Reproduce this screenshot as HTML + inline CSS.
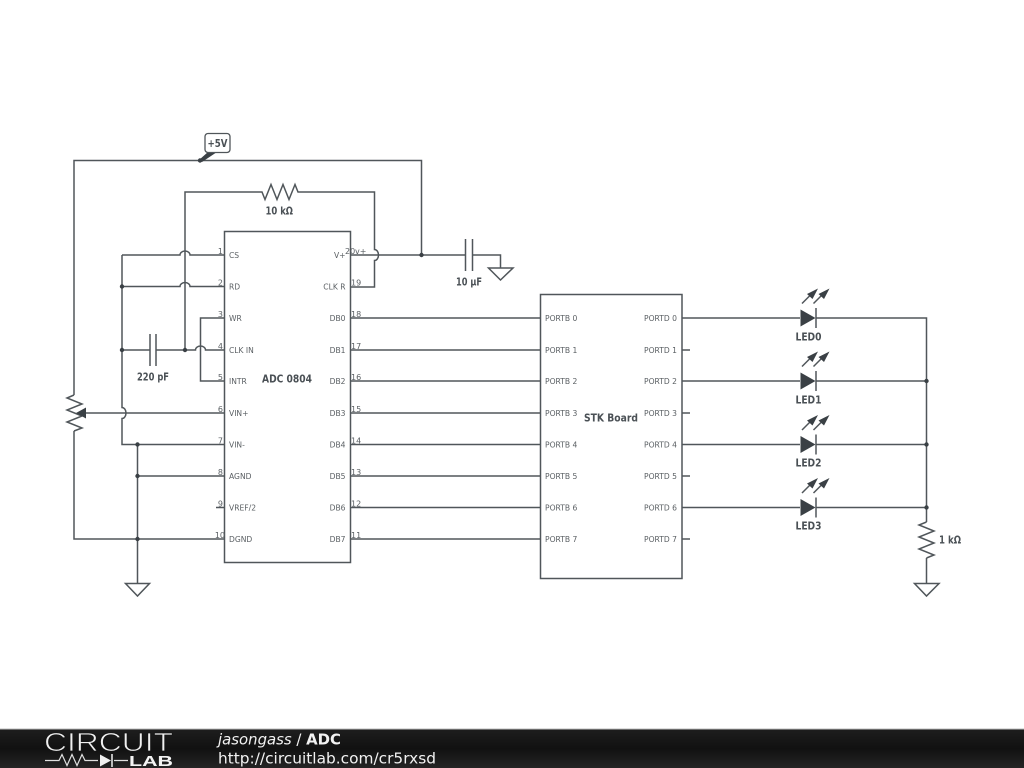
<!DOCTYPE html>
<html><head><meta charset="utf-8"><style>
html,body{margin:0;padding:0;background:#fff;width:1024px;height:768px;overflow:hidden}
svg{display:block}
.w{fill:none;stroke:#50565a;stroke-width:1.5}
.t{font-family:"DejaVu Sans",sans-serif;font-size:7.6px;fill:#5a5f63}
.n{font-family:"DejaVu Sans",sans-serif;font-size:8px;fill:#5a5f63}
.b{font-family:"DejaVu Sans",sans-serif;font-size:10.5px;font-weight:bold;fill:#4a5055}
.d{fill:#3a4045}
</style></head><body>
<svg width="1024" height="768" viewBox="0 0 1024 768" xmlns="http://www.w3.org/2000/svg">
<rect width="1024" height="768" fill="#fff"/>
<rect class="w" x="224.5" y="231.5" width="126" height="331"/>
<rect class="w" x="540.5" y="294.5" width="141.5" height="284"/>
<path class="w" d="M74 395V160.5H421.5V255"/>
<path class="w" d="M74 431V539H224"/>
<path class="w" d="M74 395l-7 3 15 6-15 6 15 6-15 6 15 6-8 3"/>
<path class="w" d="M224 413H86"/>
<path class="d" d="M86 407.500V418.500L76 413Z"/>
<path class="w" d="M122 255V407.500a4 5.500 0 0 1 0 11V444.500H224"/>
<path class="w" d="M122 255H180a5 4 0 0 1 10 0H224"/>
<path class="w" d="M122 286.500H180a5 4 0 0 1 10 0H224"/>
<path class="w" d="M185 350V192H262l3 7.500 6-15 6 15 6-15 6 15 6-15 3 7.500H374.500V249.500a4 5.500 0 0 1 0 11V287H350"/>
<path class="w" d="M122 350H150M156 350H195.500a5 4 0 0 1 10 0H224"/>
<path class="w" d="M150 334V366M156 334V366"/>
<path class="w" d="M224 318H200.500V381H224"/>
<path class="w" d="M137.500 444.500V583"/>
<path class="w" d="M137.500 476H224M216 507.500H224"/>
<path class="w" d="M125.500 583.500H149.500L137.500 596Z"/>
<path class="w" d="M350 255H465.500M472.500 255H500.500V268"/>
<path class="w" d="M465.500 239V271M472.500 239V271"/>
<path class="w" d="M488.500 268H513L500.500 280Z"/>
<path class="w" d="M350 318H540M350 350H540M350 381H540M350 413H540M350 444.500H540M350 476H540M350 507.500H540M350 539H540"/>
<path class="w" d="M682 350H690M682 413H690M682 476H690M682 539H690"/>
<path class="w" d="M682 318H800M682 381H800M682 444.500H800M682 507.500H800"/>
<path class="w" d="M816 318H926.500V522M926.500 558V583M816 381H926.500M816 444.500H926.500M816 507.500H926.500"/>
<path class="w" d="M926.500 522l-7.500 3 15 6-15 6 15 6-15 6 15 6-7.500 3"/>
<path class="w" d="M914.500 583.500H939L926.500 596Z"/>
<g id="l0"><path class="d" d="M800.500 309.500V326.500L815.500 318Z"/><path class="w" d="M816 308V328" stroke-width="1.200"/><path class="w" d="M802 303.500L812 293.500M813.500 303.500L823.500 293.500" stroke-width="1"/><path class="d" d="M818 288.500L807 294L812.500 299ZM829.500 288.500L818.500 294L824 299Z"/></g>
<use href="#l0" y="63"/>
<use href="#l0" y="126.500"/>
<use href="#l0" y="189.500"/>
<g class="d">
<circle cx="200" cy="160.500" r="2.200"/><circle cx="421.500" cy="255" r="2.200"/>
<circle cx="122" cy="286.500" r="2.200"/><circle cx="122" cy="350" r="2.200"/><circle cx="185" cy="350" r="2.200"/>
<circle cx="137.500" cy="444.500" r="2.200"/><circle cx="137.500" cy="476" r="2.200"/><circle cx="137.500" cy="539" r="2.200"/>
<circle cx="926.500" cy="381" r="2.200"/><circle cx="926.500" cy="444.500" r="2.200"/><circle cx="926.500" cy="507.500" r="2.200"/>
<path d="M199 160L208 152H217L202 162Z"/>
</g>
<rect x="205" y="133.500" width="25" height="19" rx="3" fill="#fff" stroke="#50565a" stroke-width="1.300"/>
<text class="b" x="207.500" y="147" textLength="20" lengthAdjust="spacingAndGlyphs">+5V</text>
<text class="b" x="265.500" y="214.500" textLength="27.500" lengthAdjust="spacingAndGlyphs">10 kΩ</text>
<text class="b" x="137" y="380.500" textLength="32" lengthAdjust="spacingAndGlyphs">220 pF</text>
<text class="b" x="456" y="285.500" textLength="26" lengthAdjust="spacingAndGlyphs">10 μF</text>
<text class="b" x="262" y="382.500" textLength="50" lengthAdjust="spacingAndGlyphs">ADC 0804</text>
<text class="b" x="584" y="421.500" textLength="54" lengthAdjust="spacingAndGlyphs">STK Board</text>
<text class="b" x="795.500" y="340.500" textLength="26" lengthAdjust="spacingAndGlyphs">LED0</text>
<text class="b" x="795.500" y="403.500" textLength="26" lengthAdjust="spacingAndGlyphs">LED1</text>
<text class="b" x="795.500" y="466.500" textLength="26" lengthAdjust="spacingAndGlyphs">LED2</text>
<text class="b" x="795.500" y="529.500" textLength="26" lengthAdjust="spacingAndGlyphs">LED3</text>
<text class="b" x="939" y="543.500" textLength="22" lengthAdjust="spacingAndGlyphs">1 kΩ</text>
<g class="t">
<text x="229" y="258">CS</text><text x="229" y="289.500">RD</text><text x="229" y="321">WR</text><text x="229" y="353">CLK IN</text><text x="229" y="384">INTR</text><text x="229" y="416">VIN+</text><text x="229" y="447.500">VIN-</text><text x="229" y="479">AGND</text><text x="229" y="510.500">VREF/2</text><text x="229" y="542">DGND</text>
</g>
<g class="t" text-anchor="end">
<text x="345.500" y="258">V+</text><text x="345.500" y="289.500">CLK R</text><text x="345.500" y="321">DB0</text><text x="345.500" y="353">DB1</text><text x="345.500" y="384">DB2</text><text x="345.500" y="416">DB3</text><text x="345.500" y="447.500">DB4</text><text x="345.500" y="479">DB5</text><text x="345.500" y="510.500">DB6</text><text x="345.500" y="542">DB7</text>
</g>
<g class="n" text-anchor="end">
<text x="223" y="254">1</text><text x="223" y="285.500">2</text><text x="223" y="317">3</text><text x="223" y="349">4</text><text x="223" y="380">5</text><text x="223" y="412">6</text><text x="223" y="443.500">7</text><text x="223" y="475">8</text><text x="223" y="506.500">9</text><text x="225" y="538">10</text>
</g>
<g class="n">
<text x="345" y="254">20</text><text x="355" y="254">v+</text><text x="351" y="285.500">19</text><text x="351" y="317">18</text><text x="351" y="349">17</text><text x="351" y="380">16</text><text x="351" y="412">15</text><text x="351" y="443.500">14</text><text x="351" y="475">13</text><text x="351" y="506.500">12</text><text x="351" y="538">11</text>
</g>
<g class="t">
<text x="545" y="321">PORTB 0</text><text x="545" y="353">PORTB 1</text><text x="545" y="384">PORTB 2</text><text x="545" y="416">PORTB 3</text><text x="545" y="447.500">PORTB 4</text><text x="545" y="479">PORTB 5</text><text x="545" y="510.500">PORTB 6</text><text x="545" y="542">PORTB 7</text>
</g>
<g class="t" text-anchor="end">
<text x="677" y="321">PORTD 0</text><text x="677" y="353">PORTD 1</text><text x="677" y="384">PORTD 2</text><text x="677" y="416">PORTD 3</text><text x="677" y="447.500">PORTD 4</text><text x="677" y="479">PORTD 5</text><text x="677" y="510.500">PORTD 6</text><text x="677" y="542">PORTD 7</text>
</g>
<defs><linearGradient id="f" x1="0" y1="0" x2="0" y2="1"><stop offset="0" stop-color="#1e1e1e"/><stop offset="0.5" stop-color="#111"/><stop offset="1" stop-color="#242424"/></linearGradient></defs>
<rect x="0" y="729" width="1024" height="39" fill="url(#f)"/>
<rect x="0" y="728.500" width="1024" height="1" fill="#bbb"/>
<text x="44" y="751" font-family="'Liberation Sans',sans-serif" font-size="26" fill="#f0f0f0" stroke="#161616" stroke-width="0.800" textLength="129" lengthAdjust="spacingAndGlyphs">CIRCUIT</text>
<path d="M45 760.500H59l3-6 5 11 5-11 5 11 5-11 3 6H98M114 760.500H128" fill="none" stroke="#e0e0e0" stroke-width="1.200"/>
<path d="M100 754.500V766.500L111 760.500Z" fill="#f0f0f0"/><path d="M112 754V767" stroke="#f0f0f0" stroke-width="1.500"/>
<text x="129" y="766" font-family="'Liberation Sans',sans-serif" font-weight="bold" font-size="15" fill="#f4f4f4" textLength="44" lengthAdjust="spacingAndGlyphs">LAB</text>
<text x="218" y="744.500" font-family="'DejaVu Sans',sans-serif" font-size="15" fill="#f2f2f2" textLength="123" lengthAdjust="spacingAndGlyphs"><tspan font-style="italic">jasongass</tspan> / <tspan font-weight="bold">ADC</tspan></text>
<text x="218" y="763.500" font-family="'DejaVu Sans',sans-serif" font-size="15" fill="#f2f2f2" textLength="218" lengthAdjust="spacingAndGlyphs">http://circuitlab.com/cr5rxsd</text>
</svg>
</body></html>
